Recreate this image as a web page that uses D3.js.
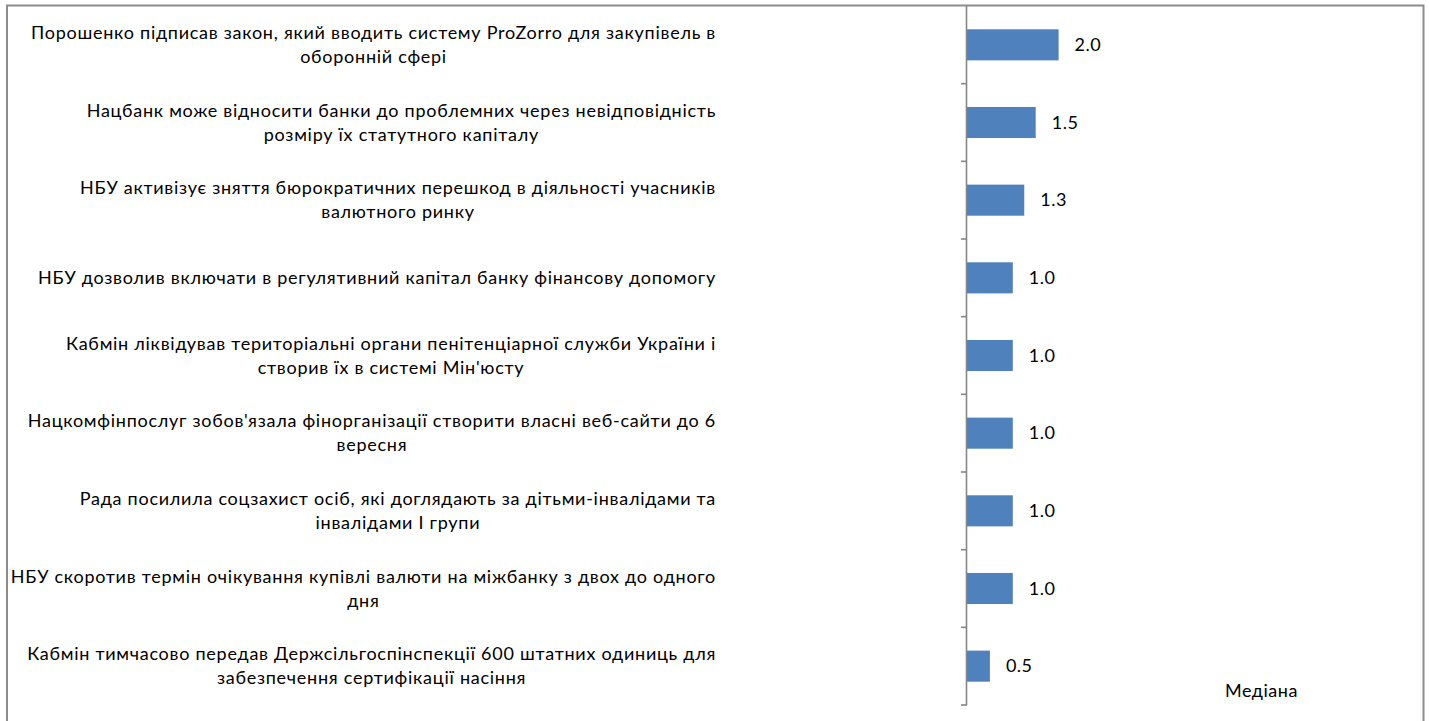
<!DOCTYPE html>
<html>
<head>
<meta charset="utf-8">
<script src="https://cdn.jsdelivr.net/npm/d3@7"></script>
<style>
  html, body { margin: 0; padding: 0; background: #fff; }
  svg { display: block; }
  text { font-family: Lato, "Open Sans", sans-serif; fill: #000; }
</style>
</head>
<body>
<svg id="chart" width="1429" height="721"></svg>
<script>
const categories = [
  "Порошенко підписав закон, який вводить систему ProZorro для закупівель в\nоборонній сфері",
  "Нацбанк може відносити банки до проблемних через невідповідність\nрозміру їх статутного капіталу",
  "НБУ активізує зняття бюрократичних перешкод в діяльності учасників\nвалютного ринку",
  "НБУ дозволив включати в регулятивний капітал банку фінансову допомогу",
  "Кабмін ліквідував територіальні органи пенітенціарної служби України і\nстворив їх в системі Мін'юсту",
  "Нацкомфінпослуг зобов'язала фінорганізації створити власні веб-сайти до 6\nвересня",
  "Рада посилила соцзахист осіб, які доглядають за дітьми-інвалідами та\nінвалідами І групи",
  "НБУ скоротив термін очікування купівлі валюти на міжбанку з двох до одного\nдня",
  "Кабмін тимчасово передав Держсільгоспінспекції 600 штатних одиниць для\nзабезпечення сертифікації насіння"
];
const medianValues = [2.0, 1.5, 1.25, 1.0, 1.0, 1.0, 1.0, 1.0, 0.5];
const valueLabels = ["2.0", "1.5", "1.3", "1.0", "1.0", "1.0", "1.0", "1.0", "0.5"];
const seriesName = "Медіана";
const xDomain = [0, 10];

const svg = d3.select("#chart");

// chart border
svg.append("rect")
  .attr("x", 7).attr("y", 5.5)
  .attr("width", 1416.5).attr("height", 730)
  .attr("fill", "none").attr("stroke", "#8c8c8c").attr("stroke-width", 2);

const plot = { left: 967, top: 6, right: 1425, bottom: 705 };

const y = d3.scaleBand()
  .domain(categories)
  .range([plot.top, plot.bottom])
  .paddingInner(0.6).paddingOuter(0.3);

const x = d3.scaleLinear().domain(xDomain).range([plot.left, plot.right]);

// bars
svg.append("g").selectAll("rect")
  .data(medianValues)
  .join("rect")
  .attr("x", x(0))
  .attr("y", (d, i) => y(categories[i]))
  .attr("width", d => x(d) - x(0))
  .attr("height", y.bandwidth())
  .attr("fill", "#4f81bd");

// value labels
svg.append("g").selectAll("text")
  .data(medianValues)
  .join("text")
  .attr("x", d => x(d) + 16)
  .attr("y", (d, i) => y(categories[i]) + y.bandwidth() / 2)
  .attr("dy", "0.35em")
  .attr("font-size", 18)
  .attr("letter-spacing", 0.5)
  .text((d, i) => valueLabels[i]);

// y axis: line + ticks at band boundaries
const axisG = svg.append("g");
const step = (plot.bottom - plot.top) / categories.length;
axisG.append("line")
  .attr("x1", plot.left - 0.5).attr("x2", plot.left - 0.5)
  .attr("y1", plot.top).attr("y2", plot.bottom)
  .attr("stroke", "#868686").attr("stroke-width", 1.6);
const boundaries = d3.range(1, categories.length + 1).map(k => plot.top + k * step);
axisG.selectAll("line.tick")
  .data(boundaries)
  .join("line")
  .attr("class", "tick")
  .attr("x1", plot.left - 6).attr("x2", plot.left)
  .attr("y1", d => d).attr("y2", d => d)
  .attr("stroke", "#868686").attr("stroke-width", 1.6);

// category labels (wrapped, centered block, right aligned)
const labelRight = 716;
const lineH = 24;
const labelG = svg.append("g");
const groups = categories.map((c, i) => {
  const lines = c.split("\n");
  const cy = y(c) + y.bandwidth() / 2;
  const g = labelG.append("g");
  const texts = lines.map((ln, j) => g.append("text")
    .attr("font-size", 18)
    .attr("letter-spacing", 0.73)
    .attr("text-anchor", "middle")
    .attr("y", cy + (j - (lines.length - 1) / 2) * lineH)
    .attr("dy", "0.35em")
    .text(ln));
  return texts;
});
groups.forEach(texts => {
  const w = d3.max(texts, t => t.node().getComputedTextLength());
  texts.forEach(t => t.attr("x", labelRight - w / 2));
});

// legend
svg.append("text")
  .attr("x", 1225).attr("y", 691)
  .attr("dy", "0.35em")
  .attr("font-size", 18)
  .attr("letter-spacing", 0.5)
  .text(seriesName);
</script>
</body>
</html>
